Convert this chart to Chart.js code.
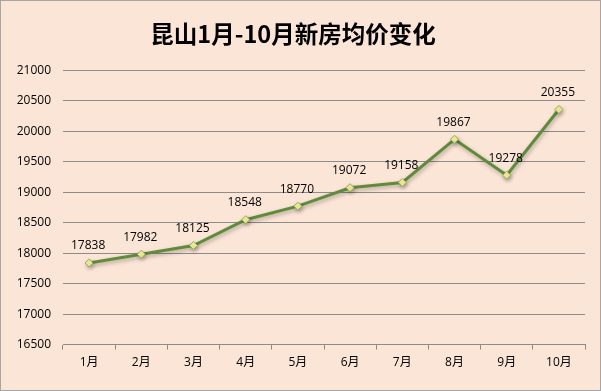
<!DOCTYPE html>
<html>
<head>
<meta charset="utf-8">
<script src="https://cdn.jsdelivr.net/npm/chart.js@4/dist/chart.umd.min.js"></script>
<style>
  html, body { margin: 0; padding: 0; background: #fbe5d6; }
  #wrap {
    width: 601px; height: 391px; box-sizing: border-box;
    border: 1px solid #a6a6a6; background: #fbe5d6;
  }
</style>
</head>
<body>
<div id="wrap"><canvas id="graph" width="599" height="389"></canvas></div>
<script>
var months = ["1月", "2月", "3月", "4月", "5月", "6月", "7月", "8月", "9月", "10月"];
var prices = [17838, 17982, 18125, 18548, 18770, 19072, 19158, 19867, 19278, 20355];
var chartTitle = "昆山1月-10月新房均价变化";

var tickFont = { family: "'Open Sans', 'Noto Sans CJK SC', sans-serif", size: 12 };

// draws the value above each point
var valueLabels = {
  id: "valueLabels",
  afterDatasetsDraw: function (chart) {
    var ctx = chart.ctx;
    var meta = chart.getDatasetMeta(0);
    ctx.save();
    ctx.font = "12px 'Open Sans', sans-serif";
    ctx.fillStyle = "#000";
    ctx.textAlign = "center";
    ctx.textBaseline = "middle";
    meta.data.forEach(function (pt, i) {
      ctx.fillText(prices[i], pt.x - 1, pt.y - 17);
    });
    ctx.restore();
  }
};

// soft shadow under the line
var lineShadow = {
  id: "lineShadow",
  beforeDatasetsDraw: function (chart) {
    var ctx = chart.ctx;
    ctx.save();
    ctx.shadowColor = "rgba(0,0,0,0.3)";
    ctx.shadowBlur = 4;
    ctx.shadowOffsetX = 1;
    ctx.shadowOffsetY = 2;
  },
  afterDatasetsDraw: function (chart) {
    chart.ctx.restore();
  }
};

var ctx = document.getElementById("graph").getContext("2d");
var chart = new Chart(ctx, {
  type: "line",
  data: {
    labels: months,
    datasets: [
      {
        data: prices,
        borderColor: "#5f8b3b",
        borderWidth: 3,
        tension: 0,
        pointStyle: "rectRot",
        pointRadius: 4,
        pointBorderWidth: 1,
        pointBorderColor: "#8fae5a",
        pointBackgroundColor: "#f7f09c",
      },
    ],
  },
  options: {
    responsive: false,
    animation: false,
    layout: { padding: { left: 0, right: 15, top: 0, bottom: 14 } },
    plugins: {
      legend: { display: false },
      tooltip: { enabled: false },
      title: {
        display: true,
        text: chartTitle,
        color: "#000",
        font: { family: "'Noto Sans CJK SC', sans-serif", size: 23.5, weight: "bold" },
        padding: { top: 19, bottom: 22 },
      },
    },
    scales: {
      x: {
        type: "category",
        offset: true,
        grid: {
          offset: true,
          drawOnChartArea: false,
          drawTicks: true,
          tickLength: 5,
          color: "#8c8c8c",
        },
        border: { display: true, color: "#8c8c8c", width: 1 },
        ticks: { color: "#000", font: tickFont, padding: 6 },
      },
      y: {
        min: 16500,
        max: 21000,
        afterFit: function (scale) { scale.width = 62; },
        ticks: {
          stepSize: 500,
          color: "#000",
          font: tickFont,
          padding: 12,
          callback: function (v) { return String(v); },
        },
        grid: { color: "#8c8c8c", drawTicks: false },
        border: { display: false },
      },
    },
  },
  plugins: [lineShadow, valueLabels],
});
</script>
</body>
</html>
